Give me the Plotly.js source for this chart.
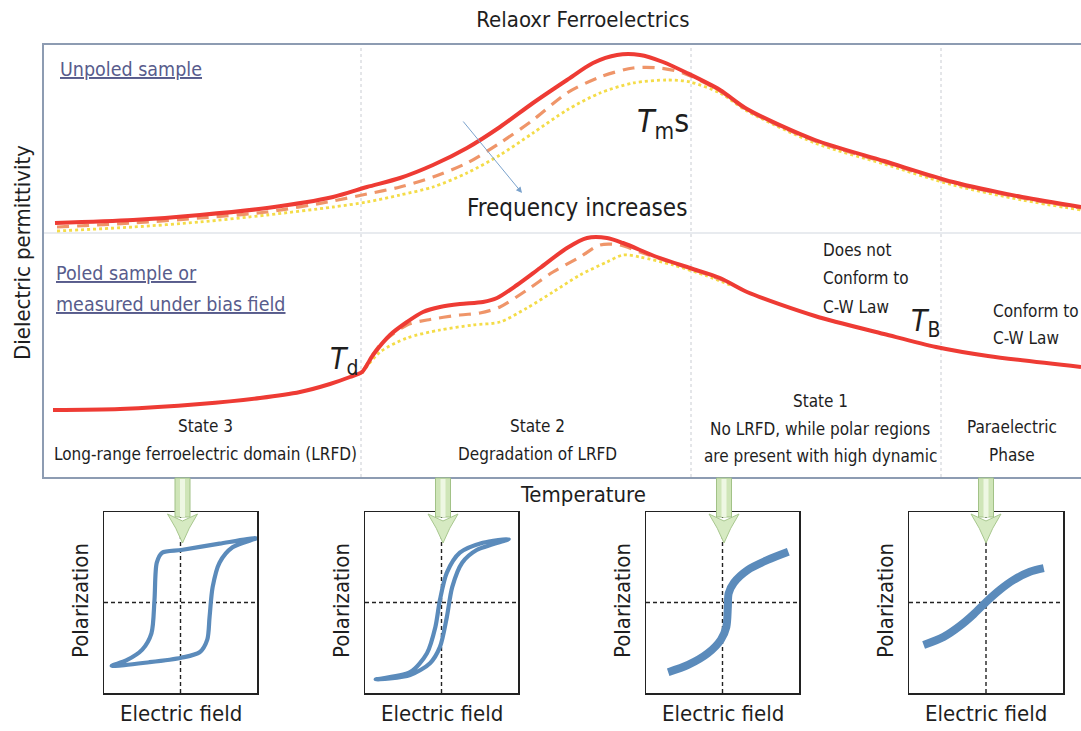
<!DOCTYPE html>
<html><head><meta charset="utf-8">
<script src="https://cdn.plot.ly/plotly-3.0.1.min.js"></script>
<style>html,body{margin:0;padding:0;background:#fff;}#chart{width:1081px;height:731px;}</style>
</head><body><div id="chart"></div>
<script>
// ---------- Dielectric permittivity vs temperature (arbitrary units) ----------
// Unpoled sample: low / middle / high frequency
const unpoledLowT  = [1.1, 8.9, 15.6, 22.3, 28.9, 32.3, 35.6, 38.9, 42.3, 45.6, 48.9, 52.3, 54.9, 57.3, 59.6, 61.9, 64.3, 67.6, 70.3, 77.1, 84.0, 90.9, 97.8, 103.7];
const unpoledLowE  = [25.4, 25.7, 26.2, 26.9, 28.0, 29.0, 29.9, 31.2, 32.9, 35.0, 37.4, 39.7, 41.4, 42.2, 42.2, 41.5, 40.4, 38.7, 36.8, 33.7, 31.6, 29.5, 28.0, 27.0];
const unpoledMidT  = [1.3, 8.9, 15.6, 22.3, 28.9, 32.3, 35.6, 38.9, 42.3, 45.6, 48.9, 52.3, 55.6, 58.9, 61.6, 63.9, 67.6, 70.3, 77.1, 84.0, 90.9, 97.8, 103.7];
const unpoledMidE  = [25.0, 25.4, 25.9, 26.5, 27.6, 28.3, 29.0, 30.0, 31.4, 33.4, 35.7, 38.4, 40.0, 40.9, 40.9, 40.4, 38.6, 36.7, 33.6, 31.5, 29.4, 27.9, 26.9];
const unpoledHighT = [1.3, 8.9, 15.6, 22.3, 28.9, 32.3, 35.6, 38.9, 42.3, 45.6, 48.9, 52.3, 55.6, 58.9, 62.3, 64.6, 67.6, 70.3, 77.1, 84.0, 90.9, 97.8, 103.7];
const unpoledHighE = [24.6, 25.0, 25.5, 26.2, 27.0, 27.5, 28.2, 29.0, 30.4, 32.2, 34.4, 36.7, 38.4, 39.4, 39.7, 39.5, 38.4, 36.6, 33.4, 31.3, 29.2, 27.7, 26.7];
// Poled sample / under bias field
const poledLowT  = [0.9, 7.6, 15.6, 21.6, 25.6, 28.6, 30.6, 31.8, 32.9, 34.6, 36.3, 37.9, 39.6, 41.6, 43.9, 45.3, 47.3, 49.6, 52.3, 54.3, 56.3, 57.9, 61.3, 64.6, 67.6, 70.3, 77.1, 84.0, 89.2, 94.4, 103.7];
const poledLowE  = [6.7, 6.8, 7.3, 7.9, 8.5, 9.3, 10.0, 10.5, 12.2, 14.2, 15.5, 16.5, 17.0, 17.3, 17.5, 17.9, 19.2, 20.9, 22.9, 23.9, 23.9, 23.4, 22.0, 20.9, 19.9, 18.5, 16.1, 14.3, 13.0, 12.1, 11.0];
const poledMidT  = [31.8, 33.6, 36.3, 38.3, 41.6, 43.6, 45.6, 48.3, 50.9, 53.6, 55.6, 57.6, 59.6, 62.9, 65.6, 68.1];
const poledMidE  = [10.4, 13.2, 15.2, 15.7, 16.2, 16.4, 17.0, 18.7, 20.5, 22.0, 23.2, 23.2, 22.5, 21.4, 20.5, 19.6];
const poledHighT = [31.8, 33.6, 36.3, 39.6, 42.9, 45.6, 48.3, 50.9, 53.6, 56.3, 57.9, 59.6, 62.9, 66.3, 68.6];
const poledHighE = [10.4, 12.5, 13.9, 14.7, 15.2, 15.5, 16.9, 18.5, 20.2, 21.5, 22.2, 22.0, 21.2, 20.1, 19.2];
// Region boundaries (Td, Tm, TB) and the temperature of each P-E loop
const boundaryT = [31.7, 64.7, 89.7];
const loopT = [13.85, 39.9, 68.0, 94.2];
// ---------- P-E loops (normalised field / polarization) ----------
const loop3E = [0.99, 0.51, 0.01, -0.24, -0.31, -0.34, -0.38, -0.50, -0.71, -0.90, -0.41, 0.01, 0.25, 0.35, 0.38, 0.42, 0.51, 0.68, 0.99];
const loop3P = [0.71, 0.65, 0.58, 0.55, 0.44, 0.03, -0.34, -0.52, -0.64, -0.70, -0.66, -0.61, -0.55, -0.41, -0.16, 0.17, 0.44, 0.61, 0.71];
const loop2E = [0.88, 0.54, 0.24, 0.07, -0.02, -0.08, -0.19, -0.41, -0.86, -0.41, -0.15, -0.02, 0.07, 0.14, 0.27, 0.46, 0.88];
const loop2P = [0.70, 0.66, 0.55, 0.33, 0.03, -0.27, -0.56, -0.77, -0.85, -0.80, -0.67, -0.49, -0.16, 0.17, 0.44, 0.58, 0.70];
const loop1E = [-0.71, -0.45, -0.19, -0.02, 0.05, 0.07, 0.08, 0.15, 0.33, 0.59, 0.86];
const loop1P = [-0.77, -0.69, -0.56, -0.41, -0.27, -0.05, 0.10, 0.22, 0.36, 0.47, 0.56];
const loop0E = [-0.81, -0.55, -0.34, -0.16, 0.00, 0.18, 0.36, 0.57, 0.75];
const loop0P = [-0.47, -0.38, -0.26, -0.13, 0.005, 0.14, 0.25, 0.34, 0.38];

const FONT = '"DejaVu Sans Condensed", "Liberation Sans Narrow", Roboto, sans-serif';
const INK = '#1e1e1e';
const RED = '#ee3b34', ORANGE = '#ef9569', YELLOW = '#f4dc48', BLUE = '#5b8bbb';
const W = 1081, H = 731;
const px = v => v / W, py = v => 1 - v / H;

function curve(x, y, color, width, dash, xa, ya) {
  return {x: x, y: y, type: 'scatter', mode: 'lines', xaxis: xa || 'x', yaxis: ya || 'y', hoverinfo: 'skip',
    line: {color: color, width: width, dash: dash || 'solid', shape: 'spline', smoothing: 0.8}};
}
const traces = [
  curve(unpoledHighT, unpoledHighE, YELLOW, 2.8, 'dot'),
  curve(unpoledMidT, unpoledMidE, ORANGE, 3.2, '12px,8px'),
  curve(unpoledLowT, unpoledLowE, RED, 4),
  curve(poledHighT, poledHighE, YELLOW, 2.8, 'dot'),
  curve(poledMidT, poledMidE, ORANGE, 3.2, '12px,8px'),
  curve(poledLowT, poledLowE, RED, 4),
  curve(loop3E, loop3P, BLUE, 4.2, 'solid', 'x2', 'y2'),
  curve(loop2E, loop2P, BLUE, 4.2, 'solid', 'x3', 'y3'),
  curve(loop1E, loop1P, BLUE, 8, 'solid', 'x4', 'y4'),
  curve(loop0E, loop0P, BLUE, 8, 'solid', 'x5', 'y5')
];

const boxes = [[104, 257], [365, 518], [646, 799], [909, 1063]];
const layout = {
  width: W, height: H, margin: {l: 0, r: 0, t: 0, b: 0},
  paper_bgcolor: '#fff', plot_bgcolor: '#fff', showlegend: false,
  font: {family: FONT, color: INK},
  title: {text: 'Relaoxr Ferroelectrics', x: px(583), xanchor: 'center', y: py(19), yanchor: 'middle',
    font: {size: 22, family: FONT, color: INK}},
  xaxis: {domain: [px(44), 1], range: [0, 103.7], showline: true, mirror: true, linecolor: '#8d9cb2', linewidth: 2,
    showgrid: false, zeroline: false, showticklabels: false, ticks: '', fixedrange: true},
  yaxis: {domain: [py(477), py(45)], range: [0, 43.2], showline: true, mirror: false, linecolor: '#8d9cb2', linewidth: 2,
    showgrid: false, zeroline: false, showticklabels: false, ticks: '', fixedrange: true},
  shapes: [], annotations: []
};
boxes.forEach((b, i) => {
  const n = i + 2;
  layout['xaxis' + n] = {domain: [px(b[0]), px(b[1])], range: [-1, 1], anchor: 'y' + n, showline: true, mirror: true,
    linecolor: '#222', linewidth: 1.5, showgrid: false, zeroline: false, showticklabels: false, ticks: ''};
  layout['yaxis' + n] = {domain: [py(693), py(512)], range: [-1, 1], anchor: 'x' + n, showline: true, mirror: true,
    linecolor: '#222', linewidth: 1.5, showgrid: false, zeroline: false, showticklabels: false, ticks: ''};
  layout.shapes.push({type: 'line', xref: 'x' + n, yref: 'y' + n, x0: -1, x1: 1, y0: 0, y1: 0, layer: 'below',
    line: {color: '#222', width: 1.4, dash: '4px,3px'}});
  layout.shapes.push({type: 'line', xref: 'x' + n, yref: 'y' + n, x0: 0, x1: 0, y0: -1, y1: 1, layer: 'below',
    line: {color: '#222', width: 1.4, dash: '4px,3px'}});
  layout.annotations.push({xref: 'paper', yref: 'paper', x: px(b[0] - 24), y: py(601), text: 'Polarization', textangle: -90,
    showarrow: false, xanchor: 'center', yanchor: 'middle', font: {size: 22, color: INK}});
  layout.annotations.push({xref: 'paper', yref: 'paper', x: px((b[0] + b[1]) / 2), y: py(713), text: 'Electric field',
    showarrow: false, xanchor: 'center', yanchor: 'middle', font: {size: 22, color: INK}});
});
// region boundaries and separator
boundaryT.forEach(t => layout.shapes.push({type: 'line', xref: 'x', yref: 'y', x0: t, x1: t, y0: 0, y1: 43.2, layer: 'below',
  line: {color: '#c9ccd2', width: 1, dash: 'dot'}}));
layout.shapes.push({type: 'line', xref: 'x', yref: 'y', x0: 0, x1: 103.7, y0: 24.4, y1: 24.4, layer: 'below',
  line: {color: '#e0e4ea', width: 1.5}});
// green arrows from the temperature axis to the loops
loopT.forEach(t => {
  layout.shapes.push({type: 'rect', xref: 'x', yref: 'paper', x0: t - 0.75, x1: t + 0.75, y0: py(517), y1: py(478),
    fillcolor: '#cfe5b8', line: {color: '#a2c287', width: 1}});
  layout.shapes.push({type: 'rect', xref: 'x', yref: 'paper', x0: t - 0.25, x1: t + 0.25, y0: py(517), y1: py(479),
    fillcolor: '#eef7e3', line: {width: 0}});
  layout.shapes.push({type: 'path', xref: 'x', yref: 'paper',
    path: `M ${t - 1.5} ${py(514)} Q ${t - 0.6} ${py(528)} ${t} ${py(543)} Q ${t + 0.6} ${py(528)} ${t + 1.5} ${py(514)} L ${t} ${py(521)} Z`,
    fillcolor: '#d6eac2', line: {color: '#a8c78e', width: 1}});
});

const ann = layout.annotations;
function txt(x, y, text, size, anchor, color) {
  ann.push({xref: 'x', yref: 'y', x: x, y: y, text: text, showarrow: false, xanchor: anchor || 'center', yanchor: 'middle',
    font: {size: size, color: color || INK}});
}
const SLATE = '#585c8c';
txt(1.4, 40.7, '<u>Unpoled sample</u>', 19.5, 'left', SLATE);
txt(1.0, 20.4, '<u>Poled sample or</u>', 19.5, 'left', SLATE);
txt(1.0, 17.3, '<u>measured under bias field</u>', 19.5, 'left', SLATE);
txt(53.3, 26.9, 'Frequency increases', 24);
txt(61.9, 35.4, '<i>T</i><sub>m</sub>s', 32);
txt(30.0, 11.7, '<i>T</i><sub>d</sub>', 30);
txt(88.1, 15.5, '<i>T</i><sub>B</sub>', 30);
txt(77.7, 22.7, 'Does not', 17, 'left');
txt(77.7, 19.9, 'Conform to', 17, 'left');
txt(77.7, 17.0, 'C-W Law', 17, 'left');
txt(94.7, 16.6, 'Conform to', 17, 'left');
txt(94.7, 13.9, 'C-W Law', 17, 'left');
txt(16.1, 5.1, 'State 3', 17);
txt(16.1, 2.3, 'Long-range ferroelectric domain (LRFD)', 17);
txt(49.3, 5.1, 'State 2', 17);
txt(49.3, 2.3, 'Degradation of LRFD', 17);
txt(77.6, 7.6, 'State 1', 17);
txt(77.6, 4.8, 'No LRFD, while polar regions', 17);
txt(77.6, 2.1, 'are present with high dynamic', 17);
txt(96.8, 5.0, 'Paraelectric', 17);
txt(96.8, 2.2, 'Phase', 17);
ann.push({xref: 'x', yref: 'y', x: 47.8, y: 28.4, ax: 41.8, ay: 35.7, axref: 'x', ayref: 'y', text: '', showarrow: true,
  arrowhead: 2, arrowsize: 1.2, arrowwidth: 1, arrowcolor: '#7aa2cc'});
ann.push({xref: 'paper', yref: 'paper', x: px(22), y: py(253), text: 'Dielectric permittivity', textangle: -90,
  showarrow: false, xanchor: 'center', yanchor: 'middle', font: {size: 22, color: INK}});
ann.push({xref: 'paper', yref: 'paper', x: px(583), y: py(494), text: 'Temperature',
  showarrow: false, xanchor: 'center', yanchor: 'middle', font: {size: 22, color: INK}});

Plotly.newPlot('chart', traces, layout, {staticPlot: true, displayModeBar: false});
</script></body></html>
